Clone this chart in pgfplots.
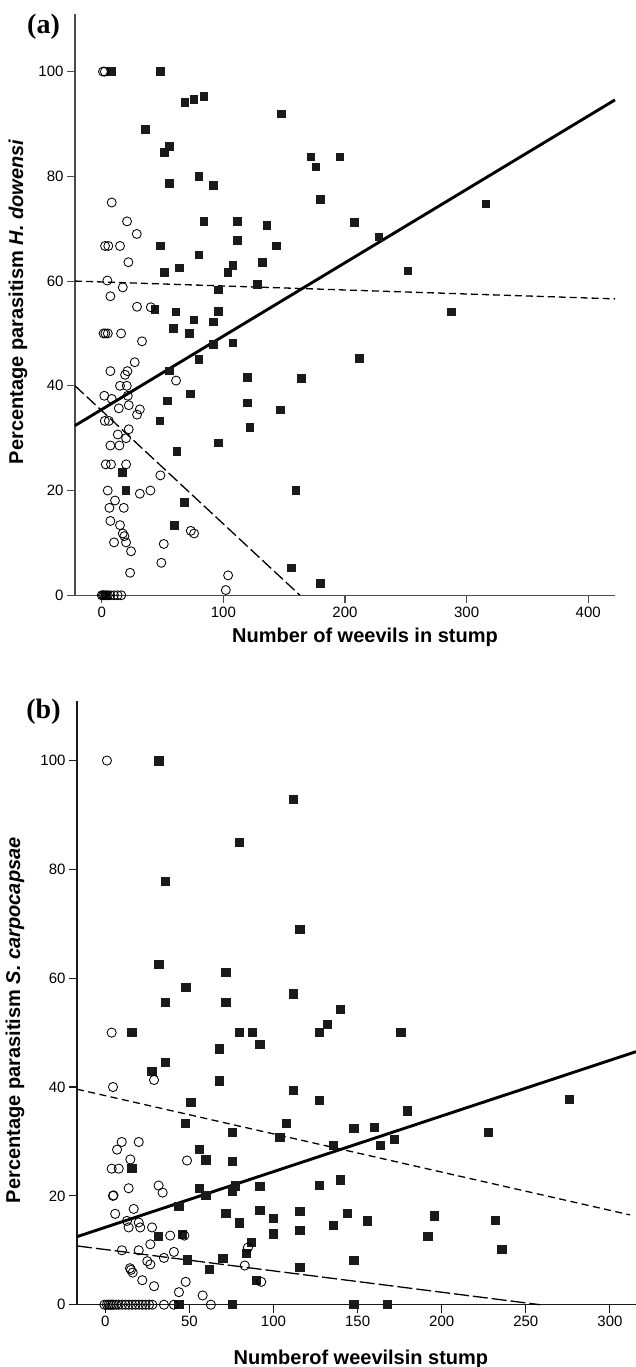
\documentclass[border=0pt]{standalone}
\usepackage{fontspec}
\setmainfont{Liberation Sans}
\newfontfamily\serifbf{Liberation Serif}
\usepackage{pgfplots}
\pgfplotsset{compat=1.18}
\definecolor{mk}{HTML}{1A1A1A}
\begin{document}
\begin{tikzpicture}[x=1pt,y=1pt]
\useasboundingbox (0pt,0pt) rectangle (636pt,1367pt);
\pgfplotsset{
  myax/.style={
    scale only axis,
    axis x line=bottom, axis y line=left,
    axis line style={-},
    tick align=outside,
    major tick length=8pt,
    ymin=0, ymax=111,
    ytick={0,20,40,60,80,100},
    /pgf/number format/assume math mode=true,
    ticklabel style={font=\fontsize{15}{15}\selectfont},
    label style={font=\fontsize{20}{20}\selectfont\bfseries},
    clip=false,
  },
  sq/.style={only marks, mark=square*, mark size=#1, mark options={fill=mk, draw=mk, line width=0pt}},
  ci/.style={only marks, mark=o, mark size=#1, mark options={draw=black, line width=0.85pt, fill=none}},
}
% ---------------- panel (a)
\begin{axis}[myax, at={(75pt,771.7pt)}, anchor=south west, width=540pt, height=581.3pt,
  xmin=-22, xmax=422, xtick={0,100,200,300,400},
  axis line style={-, line width=1.1pt, black!70},
  tick style={line width=1.1pt, black!70},
  xlabel={Number of weevils in stump},
  xlabel style={at={(axis description cs:0.537,0)}, anchor=north, yshift=-33pt, inner sep=0pt},
  ylabel={Percentage parasitism \textit{H. dowensi}},
  ylabel style={at={(axis description cs:-0.1056,0.505)}, anchor=center, inner sep=0pt},
]
\addplot[sq=3.8pt] coordinates {
(3,0) (8.2,100) (48.2,100) (68.3,94.1) (75.9,94.7) (84.1,95.3) (148,91.9) (35.9,88.9) (55.9,85.7) (51.8,84.6)
(171.9,83.7) (176,81.8) (196,83.7) (80,80.0) (55.9,78.6) (92.1,78.3) (179.8,75.6) (84.1,71.4) (111.8,71.4)
(135.9,70.6) (208,71.2) (111.8,67.8) (48.2,66.7) (143.9,66.7) (227.8,68.4) (316,74.7) (80,65.0) (132.1,63.6)
(108,63.0) (63.8,62.5) (51.8,61.6) (103.9,61.6) (251.9,61.9) (128,59.4) (95.9,58.3) (43.8,54.6) (61.1,54.1)
(95.9,54.2) (287.8,54.1) (75.9,52.6) (92.1,52.2) (58.9,51.0) (72,50.0) (92.1,47.9) (108,48.2) (80,45.0)
(211.8,45.2) (55.9,42.8) (120,41.6) (164,41.4) (72.9,38.4) (53.9,37.1) (120,36.7) (146.9,35.4) (47.9,33.3)
(122,32.0) (95.9,29.1) (61.9,27.4) (16.9,23.5) (20,20.0) (159.8,20.0) (67.9,17.7) (60,13.3) (155.9,5.2) (179.8,2.2)
};
\addplot[ci=4.5pt] coordinates {
(1,100) (2.5,100) (8.2,75.0) (20.8,71.4) (28.8,69.0) (2.7,66.7) (5.4,66.7) (15.0,66.7) (21.9,63.6) (4.6,60.1)
(17.3,58.8) (7.1,57.1) (29,55.1) (40.3,55.0) (1.5,50) (3,50) (5,50) (15.9,50) (33.1,48.5) (27.1,44.5) (7.1,42.8)
(21.1,42.8) (19.2,42.1) (15,40) (20.6,40) (2.1,38.1) (8.2,37.5) (21.4,38.1) (61.1,41.0) (14,35.7) (22.2,36.3)
(31.3,35.5) (29,34.5) (2.5,33.3) (5.8,33.3) (22.2,31.7) (13.2,30.7) (20,30) (7.1,28.6) (14.5,28.6) (3.3,25)
(7.6,25) (20,25) (48.2,22.9) (4.9,20) (40,20) (31.3,19.4) (10.9,18.1) (6.3,16.7) (18.1,16.7) (7.1,14.2) (15,13.4)
(17.3,11.8) (18.6,11.3) (20,10.1) (10.1,10.1) (24.1,8.4) (51,9.8) (73.2,12.3) (75.9,11.8) (49,6.2) (23.3,4.3)
(103.9,3.8) (102,1.0) (0,0) (1,0) (2,0) (3.5,0) (5,0) (7,0) (10,0) (13,0) (16,0)
};
\addplot[black, line width=2.9pt] coordinates {(-22,32.4) (422,94.6)};
\addplot[black, line width=1.3pt, dash pattern=on 7pt off 4pt] coordinates {(-22,60.0) (422,56.6)};
\addplot[black, line width=1.3pt, dash pattern=on 12pt off 4pt] coordinates {(-22,40.0) (163,0)};
\end{axis}
\node[font=\fontsize{28}{28}\selectfont\serifbf\bfseries] at (43.5pt,1340.5pt) {(a)};
% ---------------- panel (b)
\begin{axis}[myax, at={(77pt,62.3pt)}, anchor=south west, width=559pt, height=604pt,
  xmin=-16.8, xmax=315.5, xtick={0,50,100,150,200,250,300},
  axis line style={-, line width=1.1pt, black!90},
  tick style={line width=1.1pt, black!90},
  xlabel={Numberof weevilsin stump},
  xlabel style={at={(axis description cs:0.508,0)}, anchor=north, yshift=-45pt, inner sep=0pt},
  ylabel={Percentage parasitism \textit{S. carpocapsae}},
  ylabel style={at={(axis description cs:-0.1109,0.471)}, anchor=center, inner sep=0pt},
]
\addplot[sq=4.1pt] coordinates {
(31.9,99.9) (111.8,92.8) (79.9,85.0) (35.9,77.8) (115.8,69.0) (31.9,62.5) (71.8,61.1) (48,58.3) (111.8,57.1)
(35.9,55.5) (71.8,55.5) (140,54.3) (132,51.5) (15.9,50) (79.9,50) (87.6,50) (127.2,50) (175.8,50) (92,47.8)
(68,47) (35.9,44.5) (27.8,42.9) (68,41.1) (112,39.3) (127.2,37.5) (275.9,37.7) (51,37.2) (179.8,35.6) (47.8,33.3)
(107.8,33.3) (147.9,32.4) (159.9,32.5) (227.9,31.6) (75.7,31.6) (103.9,30.7) (171.8,30.3) (135.8,29.3) (163.7,29.2)
(55.9,28.5) (59.9,26.6) (75.7,26.3) (15.9,25) (140,22.9) (127.2,21.9) (55.9,21.4) (77.3,21.8) (75.7,20.9) (92,21.7)
(59.9,20) (43.8,18.1) (92,17.3) (115.8,17.2) (71.8,16.7) (143.9,16.7) (195.8,16.3) (99.9,15.9) (155.8,15.4)
(231.9,15.5) (79.9,15) (135.8,14.6) (115.8,13.7) (99.9,13) (31.5,12.6) (45.8,12.9) (191.9,12.5) (87,11.5)
(235.8,10.2) (84.1,9.4) (70,8.5) (49,8.2) (147.9,8.1) (115.8,6.9) (61.8,6.5) (89.8,4.4) (43.8,0) (75.7,0)
(147.9,0) (167.9,0)
};
\addplot[ci=4.6pt] coordinates {
(1,100) (3.8,50) (4.6,40) (29,41.3) (9.8,29.9) (19.9,29.9) (7,28.5) (14.9,26.7) (3.8,25) (8,25) (48.6,26.5)
(13.9,21.4) (31.7,21.9) (34.1,20.6) (4.6,20) (4.9,20.1) (16.9,17.6) (5.9,16.7) (12.9,15.4) (19.9,15.1) (13.9,14.2)
(20.8,14.2) (27.8,14.2) (38.6,12.7) (47,12.7) (26.8,11.1) (9.9,10) (19.9,10) (40.8,9.7) (34.9,8.6) (25,8.0)
(26.8,7.4) (14.7,6.7) (15.3,6.4) (16.3,5.9) (22,4.5) (29,3.4) (47.8,4.2) (43.8,2.3) (57.9,1.7) (84.8,10.5)
(82.9,7.2) (92.7,4.2) (-0.5,0) (1,0) (2,0) (3,0) (4,0) (5,0) (6.5,0) (8,0) (10,0) (12,0) (14,0) (16,0) (18,0)
(20,0) (22,0) (24,0) (26,0) (28,0) (34.9,0) (40.8,0) (62.8,0)
};
\addplot[black, line width=2.9pt] coordinates {(-16.8,12.5) (315.5,46.5)};
\addplot[black, line width=1.3pt, dash pattern=on 7pt off 4.5pt] coordinates {(-16.8,39.6) (312,16.5)};
\addplot[black, line width=1.3pt, dash pattern=on 15pt off 4pt] coordinates {(-16.8,10.8) (258.4,0)};
\end{axis}
\node[font=\fontsize{28}{28}\selectfont\serifbf\bfseries] at (43.5pt,655.5pt) {(b)};
\end{tikzpicture}
\end{document}
